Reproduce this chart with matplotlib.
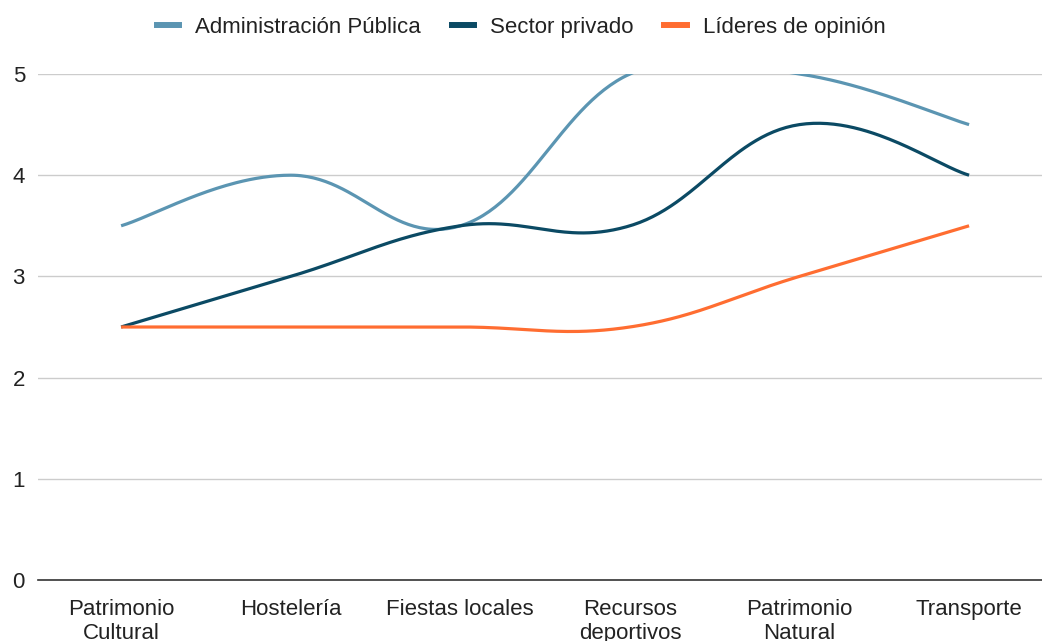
import numpy as np
import matplotlib
matplotlib.use("Agg")
import matplotlib.pyplot as plt
from matplotlib.lines import Line2D

plt.rcParams['font.family'] = ['Liberation Sans', 'DejaVu Sans']

categories = ["Patrimonio\nCultural", "Hostelería", "Fiestas locales",
              "Recursos\ndeportivos", "Patrimonio\nNatural", "Transporte"]
admin_publica = [3.5, 4.0, 3.5, 5.0, 5.0, 4.5]
sector_privado = [2.5, 3.0, 3.5, 3.5, 4.5, 4.0]
lideres_opinion = [2.5, 2.5, 2.5, 2.5, 3.0, 3.5]
series_names = ["Administración Pública", "Sector privado", "Líderes de opinión"]
colors = ["#5b95b2", "#0b4a64", "#ff6d31"]
yticks = [0, 1, 2, 3, 4, 5]


def smooth(xs, ys, t=0.2, n=60):
    xs = np.asarray(xs, float)
    ys = np.asarray(ys, float)
    m = len(xs)
    px, py = [], []
    for i in range(m - 1):
        x0, y0 = xs[i], ys[i]
        x3, y3 = xs[i + 1], ys[i + 1]
        xa, ya = (xs[i - 1], ys[i - 1]) if i > 0 else (x0, y0)
        xb, yb = (xs[i + 2], ys[i + 2]) if i + 2 < m else (x3, y3)
        x1 = x0 + t * (x3 - xa)
        y1 = y0 + t * (y3 - ya)
        x2 = x3 - t * (xb - x0)
        y2 = y3 - t * (yb - y0)
        s = np.linspace(0, 1, n)
        bx = (1-s)**3*x0 + 3*(1-s)**2*s*x1 + 3*(1-s)*s**2*x2 + s**3*x3
        by = (1-s)**3*y0 + 3*(1-s)**2*s*y1 + 3*(1-s)*s**2*y2 + s**3*y3
        px.extend(bx); py.extend(by)
    return np.array(px), np.array(py)


fig = plt.figure(figsize=(10.42, 6.41), dpi=100)
ax = fig.add_axes([38/1042, 1-580/641, 1-38/1042, (580-74)/641])

x = np.arange(len(categories))
for vals, c in zip([admin_publica, sector_privado, lideres_opinion], colors):
    sx, sy = smooth(x, vals)
    ax.plot(sx, sy, color=c, lw=2.3, solid_capstyle='butt', zorder=3)

ax.set_xlim(-0.49, 5.43)
ax.set_ylim(0, 5)
ax.set_yticks(yticks)
ax.set_xticks(x)
ax.set_xticklabels(categories, fontsize=16, color="#222222", linespacing=1.2)
ax.tick_params(axis='x', length=0, pad=13.5)
ax.tick_params(axis='y', length=0, pad=9.4, labelsize=16, labelcolor="#222222")
ax.grid(axis='y', color="#cccccc", lw=1)
ax.set_axisbelow(True)
for s in ['top', 'right', 'left']:
    ax.spines[s].set_visible(False)
ax.spines['bottom'].set_color("#333333")
ax.spines['bottom'].set_linewidth(1.2)
ax.spines['bottom'].set_zorder(4)

handles = [Line2D([], [], color=c, lw=4.3) for c in colors]
fig.legend(handles, series_names, loc='center', bbox_to_anchor=(0.5, 1-27.5/641),
           ncol=3, frameon=False, fontsize=16, handlelength=1.0,
           handletextpad=0.72, columnspacing=1.4, labelcolor="#222222")

fig.savefig("out.png", dpi=100)
